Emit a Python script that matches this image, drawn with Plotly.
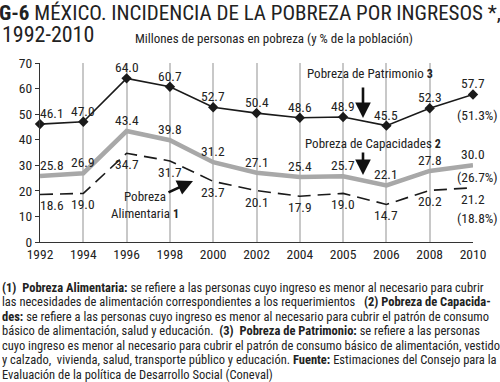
import plotly.graph_objects as go

years = ["1992", "1994", "1996", "1998", "2000", "2002", "2004", "2005", "2006", "2008", "2010"]
patrimonio = [46.1, 47.0, 64.0, 60.7, 52.7, 50.4, 48.6, 48.9, 45.5, 52.3, 57.7]
capacidades = [25.8, 26.9, 43.4, 39.8, 31.2, 27.1, 25.4, 25.7, 22.1, 27.8, 30.0]
alimentaria = [18.6, 19.0, 34.7, 31.7, 23.7, 20.1, 17.9, 19.0, 14.7, 20.2, 21.2]
pct_2010 = ["(51.3%)", "(26.7%)", "(18.8%)"]
y_ticks = [0, 10, 20, 30, 40, 50, 60, 70]

FONT = "Roboto Condensed, Liberation Sans, sans-serif"
TXT = "#222222"

W, H = 500, 382
X0, X1, Y0, Y1 = 40, 473, 242, 63


def px_x(px):
    return (px - X0) / (X1 - X0)


def px_y(py):
    return (Y0 - py) / (Y0 - Y1)


xs = list(range(len(years)))

fig = go.Figure()
fig.add_trace(go.Scatter(x=xs, y=capacidades, mode="lines",
                         line=dict(color="#a8a8a8", width=4.5), cliponaxis=False,
                         hoverinfo="skip"))
fig.add_trace(go.Scatter(x=xs, y=alimentaria, mode="lines",
                         line=dict(color="#1a1a1a", width=1.6, dash="13px,7px"),
                         cliponaxis=False, hoverinfo="skip"))
fig.add_trace(go.Scatter(x=xs, y=patrimonio, mode="lines+markers",
                         line=dict(color="#1a1a1a", width=1.6),
                         marker=dict(symbol="diamond", size=8, color="#1a1a1a"),
                         cliponaxis=False, hoverinfo="skip"))

ann = []
lab_font = dict(family=FONT, size=13.5, color=TXT)


def add_labels(vals, yshift, first_xshift):
    for i, v in enumerate(vals):
        ann.append(dict(x=i, y=v, xref="x", yref="y", text=f"{v:.1f}", showarrow=False,
                        font=lab_font, xanchor="center", yanchor="middle",
                        yshift=yshift, xshift=(first_xshift if i == 0 else 0)))


add_labels(patrimonio, 11, 12)
add_labels(capacidades, 11, 12)
add_labels(alimentaria, -11, 12)

# 2010 percentages
for txt, py in zip(pct_2010, [115, 177, 218]):
    ann.append(dict(x=px_x(477), y=px_y(py), xref="paper", yref="paper", text=txt,
                    showarrow=False, font=lab_font, xanchor="center", yanchor="middle"))

# series labels
ann.append(dict(x=px_x(305), y=px_y(73), xref="paper", yref="paper",
                text="Pobreza de Patrimonio <b><span style='font-size:12px'>3</span></b>",
                showarrow=False, font=dict(family=FONT, size=13, color=TXT),
                xanchor="left", yanchor="middle"))
ann.append(dict(x=px_x(303), y=px_y(143), xref="paper", yref="paper",
                text="Pobreza de Capacidades <b><span style='font-size:12px'>2</span></b>",
                showarrow=False, font=dict(family=FONT, size=13, color=TXT),
                xanchor="left", yanchor="middle"))
ann.append(dict(x=px_x(145), y=px_y(205), xref="paper", yref="paper",
                text="Pobreza<br>Alimentaria <b><span style='font-size:12px'>1</span></b>",
                showarrow=False, font=dict(family=FONT, size=13, color=TXT),
                xanchor="center", yanchor="middle", align="center"))

# arrows
for tip, tail in [((363, 118), (363, 86)), ((363, 175), (363, 151)), ((193, 181), (167, 193))]:
    ann.append(dict(x=px_x(tip[0]), y=px_y(tip[1]), xref="paper", yref="paper",
                    ax=tail[0] - tip[0], ay=tail[1] - tip[1], axref="pixel", ayref="pixel",
                    text="", showarrow=True, arrowhead=2, arrowsize=1.2, arrowwidth=2.6,
                    arrowcolor="#111111"))

# title
ann.append(dict(x=px_x(-3), y=px_y(13), xref="paper", yref="paper",
                text="<b>G-6</b> MÉXICO. INCIDENCIA DE LA POBREZA POR INGRESOS *,",
                showarrow=False, font=dict(family=FONT, size=21, color=TXT),
                xanchor="left", yanchor="middle"))
ann.append(dict(x=px_x(0), y=px_y(35), xref="paper", yref="paper",
                text="1992-2010", showarrow=False, font=dict(family=FONT, size=22, color=TXT),
                xanchor="left", yanchor="middle"))
ann.append(dict(x=px_x(133), y=px_y(39), xref="paper", yref="paper",
                text="Millones de personas en pobreza (y % de la población)", showarrow=False,
                font=dict(family=FONT, size=13, color=TXT), xanchor="left", yanchor="middle"))

foot = [
    "<b>(1)  Pobreza Alimentaria:</b> se refiere a las personas cuyo ingreso es menor al necesario para cubrir",
    "las necesidades de alimentación correspondientes a los requerimientos   <b>(2) Pobreza de Capacida-</b>",
    "<b>des:</b> se refiere a las personas cuyo ingreso es menor al necesario para cubrir el patrón de consumo",
    "básico de alimentación, salud y educación.  <b>(3)  Pobreza de Patrimonio:</b> se refiere a las personas",
    "cuyo ingreso es menor al necesario para cubrir el patrón de consumo básico de alimentación, vestido",
    "y calzado,  vivienda, salud, transporte público y educación. <b>Fuente:</b> Estimaciones del Consejo para la",
    "Evaluación de la política de Desarrollo Social (Coneval)",
]
for k, line in enumerate(foot):
    ann.append(dict(x=px_x(0), y=px_y(287 + 14.5 * k), xref="paper", yref="paper", text=line,
                    showarrow=False, font=dict(family=FONT, size=12.5, color=TXT),
                    xanchor="left", yanchor="middle"))

fig.update_layout(
    width=W, height=H, margin=dict(l=X0, r=W - X1, t=Y1, b=H - Y0, pad=0),
    paper_bgcolor="white", plot_bgcolor="white", showlegend=False,
    font=dict(family=FONT, size=14, color=TXT),
    annotations=ann,
    xaxis=dict(range=[0, len(years) - 1], tickmode="array", tickvals=xs, ticktext=years,
               showgrid=True, gridcolor="#c8c8c8", gridwidth=1.5, zeroline=False,
               showline=True, linecolor="#333333", linewidth=1.2, ticks="",
               tickfont=dict(family=FONT, size=13.5, color=TXT), fixedrange=True),
    yaxis=dict(range=[0, 70], tickmode="array", tickvals=y_ticks, showgrid=False,
               zeroline=False, showline=True, linecolor="#333333", linewidth=1.2,
               ticks="outside", ticklen=4, tickcolor="#333333",
               tickfont=dict(family=FONT, size=13.5, color=TXT), fixedrange=True),
)

fig.write_html("out.html", config={"displayModeBar": False},
               post_script="document.body.style.margin='0';document.body.style.overflow='hidden';")
